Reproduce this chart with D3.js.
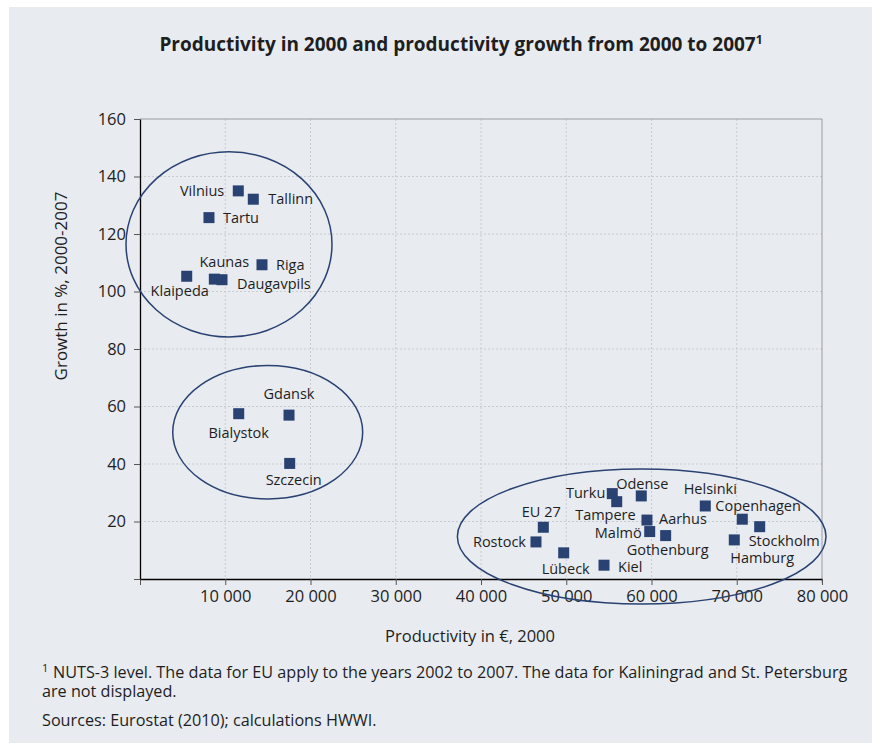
<!DOCTYPE html>
<html>
<head>
<meta charset="utf-8">
<script src="https://cdn.jsdelivr.net/npm/d3@7"></script>
<style>
  html, body { margin: 0; padding: 0; background: #ffffff; }
  svg { display: block; }
  text { font-family: "Open Sans", "Noto Sans", sans-serif; fill: #1e1e1e; }
</style>
</head>
<body>
<svg id="chart" width="881" height="749"></svg>
<script>
// ---- Data ----
const regions = ["Vilnius","Tallinn","Tartu","Riga","Klaipeda","Kaunas","Daugavpils",
  "Bialystok","Gdansk","Szczecin",
  "Turku","Tampere","Odense","Aarhus","Malmö","Gothenburg","Helsinki","Copenhagen","Stockholm","Hamburg",
  "EU 27","Rostock","Lübeck","Kiel"];
const productivity2000 = [11530,13290,8090,14310,5480,8720,9620,
  11580,17480,17560,
  55400,55920,58800,59470,59790,61660,66310,70650,72690,69710,
  47310,46450,49700,54430];
const growth2000_2007 = [135.0,132.1,125.7,109.3,105.3,104.3,104.1,
  57.5,57.0,40.2,
  29.7,26.9,28.9,20.5,16.5,15.1,25.4,20.8,18.2,13.6,
  18.0,12.9,9.1,4.8];
const xTicks = [0,10000,20000,30000,40000,50000,60000,70000,80000];
const yTicks = [0,20,40,60,80,100,120,140,160];
// cluster ellipses (data units): centre x, centre y, radius x, radius y
const clusterCx = [10440, 14980, 58850];
const clusterCy = [116.4, 51.06, 14.78];
const clusterRx = [12080, 11140, 21620];
const clusterRy = [32.2, 23.2, 23.5];

const titleText = "Productivity in 2000 and productivity growth from 2000 to 2007";
const xTitle = "Productivity in €, 2000";
const yTitle = "Growth in %, 2000-2007";
const footnote1 = "NUTS-3 level. The data for EU apply to the years 2002 to 2007. The data for Kaliningrad and St. Petersburg";
const footnote2 = "are not displayed.";
const sourceText = "Sources: Eurostat (2010); calculations HWWI.";

// ---- Label layout (anchor, dx, dy relative to marker centre) ----
const labelLayout = {
  "Vilnius": ["end", -14, 5], "Tallinn": ["start", 15, 5], "Tartu": ["start", 14, 5],
  "Riga": ["start", 14, 5], "Klaipeda": ["middle", -7, 20], "Kaunas": ["middle", 10, -12],
  "Daugavpils": ["start", 15, 9],
  "Bialystok": ["middle", 0, 24], "Gdansk": ["middle", 0, -16], "Szczecin": ["middle", 4, 22],
  "Turku": ["end", -7, 4], "Tampere": ["end", 19, 18], "Odense": ["middle", 1, -7],
  "Aarhus": ["start", 12, 4], "Malmö": ["end", -8, 6], "Gothenburg": ["middle", 2, 19],
  "Helsinki": ["middle", 5, -12], "Copenhagen": ["start", -27, -8], "Stockholm": ["start", -11, 19],
  "Hamburg": ["start", -4, 23],
  "EU 27": ["middle", -2, -10], "Rostock": ["end", -10, 5], "Lübeck": ["middle", 2, 21], "Kiel": ["start", 14, 7]
};

// ---- Layout ----
const svg = d3.select("#chart");
const W = 881, H = 749;
const plot = { left: 140, right: 822, top: 119, bottom: 579 };
const navy = "#2a4272";

svg.append("rect").attr("x", 0).attr("y", 0).attr("width", W).attr("height", H).attr("fill", "#ffffff");
svg.append("rect").attr("x", 9).attr("y", 7).attr("width", 863).attr("height", 736).attr("fill", "#e8ebf0");

const x = d3.scaleLinear().domain([0, 80000]).range([plot.left, plot.right]);
const y = d3.scaleLinear().domain([0, 160]).range([plot.bottom, plot.top]);

// gridlines
const g = svg.append("g");
g.selectAll("line.hgrid").data(yTicks.filter(d => d > 0 && d < 160)).join("line")
  .attr("x1", plot.left).attr("x2", plot.right)
  .attr("y1", d => y(d)).attr("y2", d => y(d))
  .attr("stroke", "#c9ccd2").attr("stroke-width", 1).attr("stroke-dasharray", "2,2");
g.selectAll("line.vgrid").data(xTicks.filter(d => d > 0 && d < 80000)).join("line")
  .attr("y1", plot.top).attr("y2", plot.bottom)
  .attr("x1", d => x(d)).attr("x2", d => x(d))
  .attr("stroke", "#c9ccd2").attr("stroke-width", 1).attr("stroke-dasharray", "2,2");
// top and right border
g.append("line").attr("x1", plot.left).attr("x2", plot.right).attr("y1", plot.top).attr("y2", plot.top)
  .attr("stroke", "#9a9ca0").attr("stroke-width", 1);
g.append("line").attr("x1", plot.right).attr("x2", plot.right).attr("y1", plot.top).attr("y2", plot.bottom + 4)
  .attr("stroke", "#9a9ca0").attr("stroke-width", 1);

// axes
const xAxis = d3.axisBottom(x).tickValues(xTicks).tickSize(6).tickSizeOuter(0)
  .tickFormat(d => d === 0 ? "" : d3.format(",")(d).replace(",", " "));
const yAxis = d3.axisLeft(y).tickValues(yTicks).tickSize(6).tickSizeOuter(0)
  .tickFormat(d => d === 0 ? "" : d);

const gx = svg.append("g").attr("transform", `translate(0,${plot.bottom})`).call(xAxis);
gx.select(".domain").attr("stroke", "#000").attr("stroke-width", 1.3);
gx.selectAll(".tick line").attr("stroke", "#555");
gx.selectAll(".tick text").attr("font-size", 16.5).attr("dy", "0.85em").attr("y", 9)
  .style("font-family", '"Open Sans", sans-serif').attr("fill", "#1e1e1e");

const gy = svg.append("g").attr("transform", `translate(${plot.left},0)`).call(yAxis);
gy.select(".domain").attr("stroke", "#000").attr("stroke-width", 1.3);
gy.selectAll(".tick line").attr("stroke", "#555");
gy.selectAll(".tick text").attr("font-size", 16.5).attr("x", -14)
  .style("font-family", '"Open Sans", sans-serif').attr("fill", "#1e1e1e");

// cluster ellipses
svg.append("g").selectAll("ellipse").data(clusterCx.map((cx, i) => i)).join("ellipse")
  .attr("cx", i => x(clusterCx[i]))
  .attr("cy", i => y(clusterCy[i]))
  .attr("rx", i => x(clusterRx[i]) - x(0))
  .attr("ry", i => y(0) - y(clusterRy[i]))
  .attr("fill", "none").attr("stroke", navy).attr("stroke-width", 1.5);

// markers
const pts = regions.map((name, i) => ({ name, px: productivity2000[i], gr: growth2000_2007[i] }));
const ms = 11;
svg.append("g").selectAll("rect").data(pts).join("rect")
  .attr("x", d => x(d.px) - ms / 2).attr("y", d => y(d.gr) - ms / 2)
  .attr("width", ms).attr("height", ms).attr("fill", navy);

// labels
svg.append("g").selectAll("text").data(pts).join("text")
  .attr("x", d => x(d.px) + labelLayout[d.name][1])
  .attr("y", d => y(d.gr) + labelLayout[d.name][2])
  .attr("text-anchor", d => labelLayout[d.name][0])
  .attr("font-size", 14.5)
  .text(d => d.name);

// title
const t = svg.append("text").attr("x", 461).attr("y", 51).attr("text-anchor", "middle")
  .attr("font-size", 19).attr("font-weight", "bold");
t.append("tspan").text(titleText);
t.append("tspan").attr("font-size", 12).attr("dy", -7).text("1");

// axis titles
svg.append("text").attr("x", 470).attr("y", 642).attr("text-anchor", "middle")
  .attr("font-size", 16.5).text(xTitle);
svg.append("text").attr("transform", "translate(67,286) rotate(-90)").attr("text-anchor", "middle")
  .attr("font-size", 17).text(yTitle);

// footnotes
svg.append("text").attr("x", 42).attr("y", 672).attr("font-size", 11).text("1");
svg.append("text").attr("x", 53).attr("y", 678).attr("font-size", 16.2).text(footnote1);
svg.append("text").attr("x", 42).attr("y", 697).attr("font-size", 16.2).text(footnote2);
svg.append("text").attr("x", 42).attr("y", 726).attr("font-size", 16.2).text(sourceText);
</script>
</body>
</html>
